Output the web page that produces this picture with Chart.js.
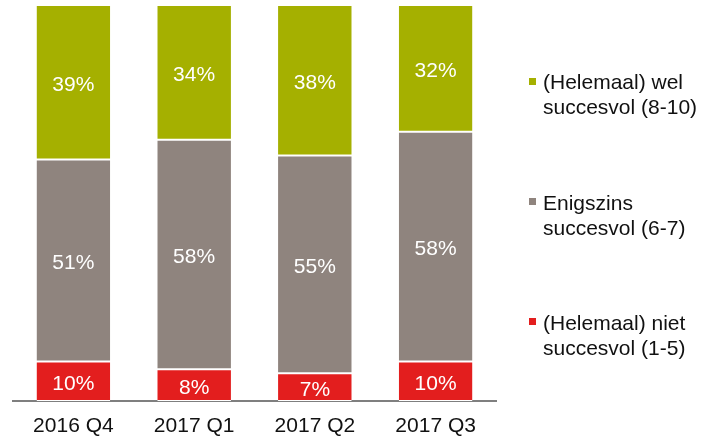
<!DOCTYPE html>
<html>
<head>
<meta charset="utf-8">
<script src="https://cdn.jsdelivr.net/npm/chart.js@4/dist/chart.umd.min.js"></script>
<style>
  body { margin: 0; background: #fff; }
  #wrap { position: relative; width: 703px; height: 439px; }
  .leg { position: absolute; left: 543px; font: 21px "Liberation Sans", Arial, sans-serif; color: #111; line-height: 25px; white-space: nowrap; }
  .sq { position: absolute; left: 529px; width: 7px; height: 7px; }
</style>
</head>
<body>
<div id="wrap">
  <canvas id="chart" width="703" height="439"></canvas>
  <div class="sq" style="top:78px;background:#a5b000"></div>
  <div class="leg" style="top:69px">(Helemaal) wel<br>succesvol (8-10)</div>
  <div class="sq" style="top:198px;background:#8f847e"></div>
  <div class="leg" style="top:190px">Enigszins<br>succesvol (6-7)</div>
  <div class="sq" style="top:318px;background:#e31e1e"></div>
  <div class="leg" style="top:310px">(Helemaal) niet<br>succesvol (1-5)</div>
</div>
<script>
var quarters = ["2016 Q4", "2017 Q1", "2017 Q2", "2017 Q3"];
var nietSuccesvol = [10, 8, 7, 10];
var enigszins = [51, 58, 55, 58];
var welSuccesvol = [39, 34, 38, 32];

// draws the percentage in the middle of every segment
var barLabels = {
	id: "barLabels",
	afterDatasetsDraw: function(chart)
	{
		var ctx = chart.ctx;
		ctx.save();
		ctx.font = '21px "Liberation Sans", Arial, sans-serif';
		ctx.fillStyle = "#ffffff";
		ctx.textAlign = "center";
		ctx.textBaseline = "middle";
		chart.data.datasets.forEach(function(ds, i)
		{
			var meta = chart.getDatasetMeta(i);
			meta.data.forEach(function(bar, j)
			{
				var p = bar.getCenterPoint();
				ctx.fillText(ds.data[j] + "%", p.x, p.y + 3);
			});
		});
		ctx.restore();
	}
};

var border = {top: 1, bottom: 1, left: 0, right: 0};

new Chart("chart", {
	type: "bar",
	data: {
		labels: quarters,
		datasets: [
			{ label: "(Helemaal) niet succesvol (1-5)", data: nietSuccesvol, backgroundColor: "#e31e1e", borderColor: "#ffffff", borderWidth: border, borderSkipped: false },
			{ label: "Enigszins succesvol (6-7)", data: enigszins, backgroundColor: "#8f847e", borderColor: "#ffffff", borderWidth: border, borderSkipped: false },
			{ label: "(Helemaal) wel succesvol (8-10)", data: welSuccesvol, backgroundColor: "#a5b000", borderColor: "#ffffff", borderWidth: border, borderSkipped: false }
		]
	},
	options: {
		responsive: false,
		animation: false,
		layout: { padding: { left: 13, right: 207, top: 5, bottom: 0 } },
		plugins: { legend: { display: false }, tooltip: { enabled: false } },
		datasets: { bar: { categoryPercentage: 1, barPercentage: 0.61 } },
		scales: {
			x: {
				stacked: true,
				afterFit: function(scale) { scale.height = 38; },
				grid: { display: false, drawTicks: false },
				border: { color: "#7f7f7f", width: 2 },
				ticks: { color: "#111", padding: 15, font: { family: "'Liberation Sans', Arial, sans-serif", size: 21, lineHeight: 1 } }
			},
			y: {
				stacked: true,
				display: false,
				min: 0,
				max: 100
			}
		}
	},
	plugins: [barLabels]
});
</script>
</body>
</html>
